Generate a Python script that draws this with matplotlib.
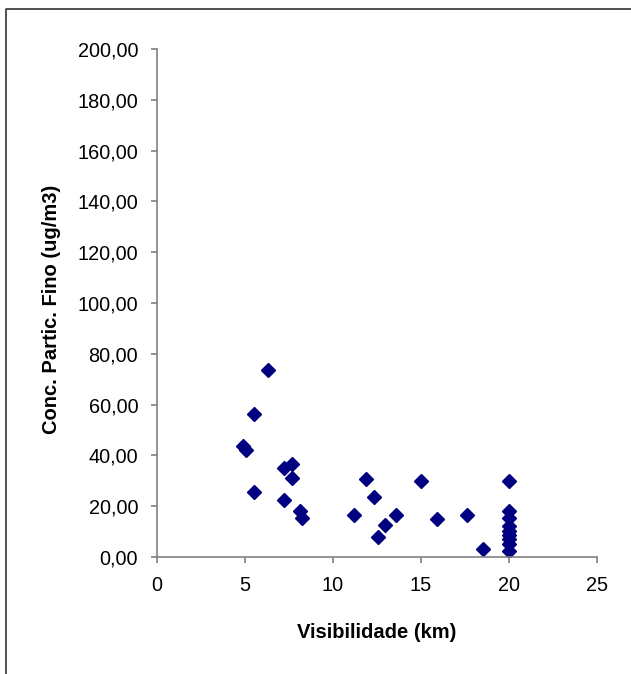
import matplotlib.pyplot as plt
from matplotlib.lines import Line2D

plt.rcParams['font.family'] = ['Liberation Sans', 'DejaVu Sans']

# Data
visibilidade = [6.3, 5.5, 4.9, 5.05, 7.2, 7.7, 7.7, 5.5, 7.2, 8.15, 8.25,
                11.9, 12.35, 11.2, 13.6, 12.95, 12.55, 15.0, 15.9, 17.6, 18.5,
                20, 20, 20, 20, 20, 20, 20, 20, 20]
conc_fino = [73.5, 56.3, 43.8, 42.0, 35.2, 36.8, 31.2, 25.7, 22.6, 18.2, 15.3,
             30.6, 23.5, 16.4, 16.4, 12.5, 7.8, 29.8, 14.8, 16.4, 3.1,
             29.8, 18.0, 15.5, 12.2, 10.2, 8.6, 7.2, 5.0, 2.3]

y_ticks = list(range(0, 201, 20))
x_ticks = list(range(0, 26, 5))

fig = plt.figure(figsize=(6.31, 6.74), dpi=100)
ax = fig.add_axes([0.2488, 0.1736, 0.946 - 0.2488, 0.9273 - 0.1736])

ax.plot(visibilidade, conc_fino, linestyle='none', marker='D', markersize=7.5,
        color='#000080', markeredgecolor='#000080')

ax.set_xlim(0, 25)
ax.set_ylim(0, 200)
ax.set_xticks(x_ticks)
ax.set_yticks(y_ticks)
ax.set_yticklabels([f'{v:.2f}'.replace('.', ',') for v in y_ticks])

for s in ['top', 'right']:
    ax.spines[s].set_visible(False)
for s in ['left', 'bottom']:
    ax.spines[s].set_color('#808080')
    ax.spines[s].set_linewidth(1.2)
ax.tick_params(direction='out', length=4.5, width=1.2, color='#808080',
               labelsize=14.3)
ax.tick_params(axis='y', pad=9)
ax.tick_params(axis='x', pad=9)

ax.set_xlabel('Visibilidade (km)', fontsize=14.5, fontweight='bold', va='center')
ax.set_ylabel('Conc. Partic. Fino (ug/m3)', fontsize=14.5, fontweight='bold', va='center')
ax.xaxis.set_label_coords(0.5, -0.148)
ax.yaxis.set_label_coords(-0.24, 0.488)

# outer frame (only top and left edges visible)
fig.add_artist(Line2D([0.0103, 0.0103, 1.0], [0.0, 0.9866, 0.9866],
                      transform=fig.transFigure, color='#333333', linewidth=1.2))

plt.savefig('out.png', dpi=100)
